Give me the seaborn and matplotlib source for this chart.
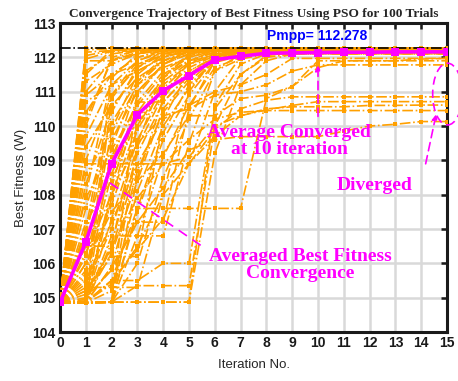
import numpy as np
import pandas as pd
import matplotlib
matplotlib.use("Agg")
import matplotlib.pyplot as plt
from matplotlib.patches import Ellipse
import seaborn as sns

# ---------------- data ----------------
iterations = list(range(16))

average_fitness = [104.86, 106.62, 108.90, 110.33, 111.03, 111.47, 111.93, 112.03,
                   112.12, 112.13, 112.14, 112.15, 112.15, 112.16, 112.16, 112.16]

pmpp_value = 112.278

trial_fitness = [
    [104.85, 112.27, 112.27, 112.27, 112.27, 112.27, 112.27, 112.27, 112.27, 112.27, 112.27, 112.27, 112.27, 112.27, 112.27, 112.27],
    [104.85, 112.05, 112.20, 112.26, 112.27, 112.27, 112.27, 112.27, 112.27, 112.27, 112.27, 112.27, 112.27, 112.27, 112.27, 112.27],
    [104.85, 111.60, 112.10, 112.20, 112.25, 112.27, 112.27, 112.27, 112.27, 112.27, 112.27, 112.27, 112.27, 112.27, 112.27, 112.27],
    [104.85, 111.00, 111.90, 112.15, 112.22, 112.26, 112.27, 112.27, 112.27, 112.27, 112.27, 112.27, 112.27, 112.27, 112.27, 112.27],
    [104.85, 110.40, 111.50, 112.00, 112.20, 112.25, 112.27, 112.27, 112.27, 112.27, 112.27, 112.27, 112.27, 112.27, 112.27, 112.27],
    [104.85, 109.70, 111.20, 111.90, 112.15, 112.22, 112.26, 112.27, 112.27, 112.27, 112.27, 112.27, 112.27, 112.27, 112.27, 112.27],
    [104.85, 109.00, 110.90, 111.70, 112.10, 112.20, 112.25, 112.27, 112.27, 112.27, 112.27, 112.27, 112.27, 112.27, 112.27, 112.27],
    [104.85, 108.30, 110.50, 111.60, 112.00, 112.20, 112.24, 112.27, 112.27, 112.27, 112.27, 112.27, 112.27, 112.27, 112.27, 112.27],
    [104.85, 107.60, 110.10, 111.30, 111.90, 112.15, 112.22, 112.25, 112.27, 112.27, 112.27, 112.27, 112.27, 112.27, 112.27, 112.27],
    [104.85, 106.90, 109.60, 111.00, 111.80, 112.10, 112.20, 112.24, 112.26, 112.26, 112.26, 112.26, 112.26, 112.26, 112.26, 112.26],
    [104.85, 106.20, 109.10, 110.70, 111.60, 112.05, 112.20, 112.23, 112.25, 112.25, 112.25, 112.25, 112.25, 112.25, 112.25, 112.25],
    [104.85, 105.60, 108.60, 110.40, 111.40, 111.90, 112.15, 112.20, 112.24, 112.24, 112.24, 112.24, 112.24, 112.24, 112.24, 112.24],
    [104.85, 105.10, 108.00, 110.00, 111.20, 111.80, 112.10, 112.20, 112.22, 112.22, 112.22, 112.22, 112.22, 112.22, 112.22, 112.22],
    [104.85, 104.90, 107.30, 109.60, 111.00, 111.70, 112.05, 112.18, 112.20, 112.20, 112.20, 112.20, 112.20, 112.20, 112.20, 112.20],
    [104.85, 104.85, 106.60, 109.20, 110.70, 111.50, 112.00, 112.15, 112.20, 112.20, 112.20, 112.20, 112.20, 112.20, 112.20, 112.20],
    [104.85, 104.85, 105.90, 108.70, 110.40, 111.30, 111.95, 112.10, 112.20, 112.20, 112.20, 112.20, 112.20, 112.20, 112.20, 112.20],
    [104.85, 104.85, 105.20, 108.10, 110.00, 111.10, 111.90, 112.10, 112.17, 112.17, 112.17, 112.17, 112.17, 112.17, 112.17, 112.17],
    [104.85, 104.85, 104.87, 107.50, 109.60, 110.90, 111.85, 112.05, 112.15, 112.15, 112.15, 112.15, 112.15, 112.15, 112.15, 112.15],
    [104.85, 104.85, 104.87, 106.80, 109.10, 110.60, 111.70, 112.00, 112.12, 112.12, 112.12, 112.12, 112.12, 112.12, 112.12, 112.12],
    [104.85, 104.85, 104.87, 106.00, 108.50, 110.20, 111.60, 111.95, 112.10, 112.10, 112.10, 112.10, 112.10, 112.10, 112.10, 112.10],
    [104.85, 104.85, 104.87, 105.35, 105.35, 105.35, 110.00, 111.50, 112.05, 112.15, 112.15, 112.15, 112.15, 112.15, 112.15, 112.15],
    [104.85, 104.85, 104.87, 104.87, 104.87, 104.87, 110.60, 111.80, 112.10, 112.20, 112.20, 112.20, 112.20, 112.20, 112.20, 112.20],
    [104.85, 104.85, 104.87, 104.87, 104.87, 104.87, 109.20, 111.20, 111.90, 112.10, 112.15, 112.15, 112.15, 112.15, 112.15, 112.15],
    [104.85, 104.85, 104.87, 107.60, 107.60, 107.60, 107.60, 107.60, 110.80, 111.15, 111.90, 111.90, 111.90, 111.90, 111.95, 111.97],
    [104.85, 105.80, 108.90, 108.90, 108.90, 108.90, 109.90, 110.50, 110.75, 110.85, 110.85, 110.85, 110.85, 110.85, 110.85, 110.85],
    [104.85, 105.50, 107.20, 108.90, 108.90, 109.10, 110.00, 110.30, 110.47, 110.60, 110.71, 110.71, 110.71, 110.71, 110.71, 110.71],
    [104.85, 104.87, 106.50, 107.90, 108.90, 109.60, 110.20, 110.40, 110.45, 110.45, 110.45, 110.45, 110.45, 110.45, 110.45, 110.45],
    [104.85, 104.87, 105.90, 107.20, 108.20, 109.30, 109.60, 109.69, 109.69, 109.69, 109.69, 109.85, 110.00, 110.05, 110.13, 110.13],
    [104.85, 106.30, 108.00, 109.50, 110.30, 110.50, 110.90, 111.00, 111.20, 111.60, 111.78, 111.78, 111.78, 111.78, 111.78, 111.78],
    [104.85, 106.00, 107.50, 108.40, 109.20, 110.30, 110.30, 110.80, 110.90, 111.15, 111.70, 111.90, 111.90, 111.90, 111.90, 111.90],
    [104.85, 105.20, 106.40, 108.90, 110.20, 110.60, 111.00, 111.20, 111.50, 111.97, 111.97, 111.97, 111.97, 111.97, 111.97, 111.97],
    [104.85, 104.87, 105.50, 106.40, 107.30, 108.90, 109.70, 110.30, 110.50, 110.56, 110.56, 110.56, 110.60, 110.60, 110.61, 110.61],
    [104.85, 104.87, 105.50, 105.50, 106.00, 106.00, 110.50, 111.50, 112.00, 112.10, 112.15, 112.15, 112.15, 112.15, 112.15, 112.15],
    [104.85, 108.90, 108.90, 111.20, 111.90, 112.20, 112.20, 112.20, 112.20, 112.20, 112.20, 112.20, 112.20, 112.20, 112.20, 112.20],
    [104.85, 111.90, 111.90, 112.10, 112.20, 112.20, 112.20, 112.20, 112.20, 112.20, 112.20, 112.20, 112.20, 112.20, 112.20, 112.20],
    [104.85, 110.90, 111.50, 111.80, 112.05, 112.15, 112.20, 112.20, 112.20, 112.20, 112.20, 112.20, 112.20, 112.20, 112.20, 112.20],
    [104.85, 112.15, 112.20, 112.20, 112.20, 112.20, 112.20, 112.20, 112.20, 112.20, 112.20, 112.20, 112.20, 112.20, 112.20, 112.20],
    [104.85, 104.85, 110.80, 111.80, 112.10, 112.20, 112.20, 112.20, 112.20, 112.20, 112.20, 112.20, 112.20, 112.20, 112.20, 112.20],
    [104.85, 104.85, 111.50, 112.00, 112.20, 112.20, 112.20, 112.20, 112.20, 112.20, 112.20, 112.20, 112.20, 112.20, 112.20, 112.20],
    [104.85, 104.85, 104.87, 111.00, 111.80, 112.10, 112.20, 112.20, 112.20, 112.20, 112.20, 112.20, 112.20, 112.20, 112.20, 112.20],
    [104.85, 106.50, 106.50, 110.00, 111.50, 112.00, 112.20, 112.20, 112.20, 112.20, 112.20, 112.20, 112.20, 112.20, 112.20, 112.20],
    [104.85, 107.00, 110.90, 111.90, 112.20, 112.20, 112.20, 112.20, 112.20, 112.20, 112.20, 112.20, 112.20, 112.20, 112.20, 112.20],
    [104.85, 110.00, 112.00, 112.20, 112.20, 112.20, 112.20, 112.20, 112.20, 112.20, 112.20, 112.20, 112.20, 112.20, 112.20, 112.20],
    [104.85, 105.20, 106.20, 106.20, 110.20, 111.60, 112.00, 112.20, 112.20, 112.20, 112.20, 112.20, 112.20, 112.20, 112.20, 112.20],
    [104.85, 104.85, 107.90, 110.70, 110.70, 111.50, 112.00, 112.20, 112.20, 112.20, 112.20, 112.20, 112.20, 112.20, 112.20, 112.20],
    [104.85, 111.30, 111.80, 112.10, 112.25, 112.27, 112.27, 112.27, 112.27, 112.27, 112.27, 112.27, 112.27, 112.27, 112.27, 112.27],
    [104.85, 110.70, 111.20, 111.60, 112.00, 112.20, 112.27, 112.27, 112.27, 112.27, 112.27, 112.27, 112.27, 112.27, 112.27, 112.27],
    [104.85, 109.40, 110.60, 111.40, 111.90, 112.10, 112.25, 112.25, 112.25, 112.25, 112.25, 112.25, 112.25, 112.25, 112.25, 112.25],
    [104.85, 108.60, 109.80, 111.20, 111.70, 112.00, 112.20, 112.20, 112.20, 112.20, 112.20, 112.20, 112.20, 112.20, 112.20, 112.20],
    [104.85, 107.90, 109.30, 110.60, 111.50, 111.90, 112.15, 112.15, 112.15, 112.15, 112.15, 112.15, 112.15, 112.15, 112.15, 112.15],
    [104.85, 107.20, 108.40, 110.20, 111.30, 111.85, 112.10, 112.20, 112.20, 112.20, 112.20, 112.20, 112.20, 112.20, 112.20, 112.20],
    [104.85, 106.00, 107.70, 109.90, 111.10, 111.80, 112.05, 112.20, 112.20, 112.20, 112.20, 112.20, 112.20, 112.20, 112.20, 112.20],
    [104.85, 105.40, 107.00, 109.40, 110.90, 111.60, 112.00, 112.18, 112.18, 112.18, 112.18, 112.18, 112.18, 112.18, 112.18, 112.18],
    [104.85, 104.95, 106.30, 108.40, 110.50, 111.40, 111.95, 112.15, 112.15, 112.15, 112.15, 112.15, 112.15, 112.15, 112.15, 112.15],
    [104.85, 104.85, 105.50, 107.60, 109.80, 111.20, 111.90, 112.10, 112.10, 112.10, 112.10, 112.10, 112.10, 112.10, 112.10, 112.10],
    [104.85, 112.22, 112.25, 112.25, 112.25, 112.25, 112.25, 112.25, 112.25, 112.25, 112.25, 112.25, 112.25, 112.25, 112.25, 112.25],
    [104.85, 111.95, 112.18, 112.18, 112.18, 112.18, 112.18, 112.18, 112.18, 112.18, 112.18, 112.18, 112.18, 112.18, 112.18, 112.18],
    [104.85, 111.50, 112.22, 112.22, 112.22, 112.22, 112.22, 112.22, 112.22, 112.22, 112.22, 112.22, 112.22, 112.22, 112.22, 112.22],
    [104.85, 110.20, 111.90, 112.25, 112.25, 112.25, 112.25, 112.25, 112.25, 112.25, 112.25, 112.25, 112.25, 112.25, 112.25, 112.25],
    [104.85, 108.00, 111.40, 112.10, 112.27, 112.27, 112.27, 112.27, 112.27, 112.27, 112.27, 112.27, 112.27, 112.27, 112.27, 112.27],
    [104.85, 106.80, 110.40, 111.70, 112.20, 112.20, 112.20, 112.20, 112.20, 112.20, 112.20, 112.20, 112.20, 112.20, 112.20, 112.20],
    [104.85, 105.70, 109.90, 111.50, 112.10, 112.27, 112.27, 112.27, 112.27, 112.27, 112.27, 112.27, 112.27, 112.27, 112.27, 112.27],
    [104.85, 104.90, 109.40, 111.30, 112.00, 112.25, 112.25, 112.25, 112.25, 112.25, 112.25, 112.25, 112.25, 112.25, 112.25, 112.25],
    [104.85, 104.87, 108.20, 110.90, 111.80, 112.20, 112.20, 112.20, 112.20, 112.20, 112.20, 112.20, 112.20, 112.20, 112.20, 112.20],
    [104.85, 104.87, 104.87, 109.50, 111.40, 112.10, 112.25, 112.25, 112.25, 112.25, 112.25, 112.25, 112.25, 112.25, 112.25, 112.25],
    [104.85, 104.87, 104.87, 108.50, 110.80, 111.90, 112.20, 112.20, 112.20, 112.20, 112.20, 112.20, 112.20, 112.20, 112.20, 112.20],
    [104.85, 105.30, 105.30, 105.30, 108.00, 111.00, 112.00, 112.20, 112.20, 112.20, 112.20, 112.20, 112.20, 112.20, 112.20, 112.20],
    [104.85, 104.87, 106.80, 106.80, 106.80, 109.50, 111.60, 112.10, 112.20, 112.20, 112.20, 112.20, 112.20, 112.20, 112.20, 112.20],
    [104.85, 105.00, 105.80, 107.20, 107.20, 110.50, 111.90, 112.20, 112.20, 112.20, 112.20, 112.20, 112.20, 112.20, 112.20, 112.20],
    [104.85, 104.87, 105.40, 106.50, 108.00, 108.90, 111.00, 112.00, 112.20, 112.20, 112.20, 112.20, 112.20, 112.20, 112.20, 112.20],
]

title_text = "Convergence Trajectory of Best Fitness Using PSO for 100 Trials"
x_label = "Iteration No."
y_label = "Best Fitness (W)"
x_ticks = list(range(0, 16))
y_ticks = list(range(104, 114))

# ---------------- figure ----------------
sns.set_theme(style="whitegrid")
plt.rcParams["font.family"] = ["Liberation Sans", "DejaVu Sans"]

fig = plt.figure(figsize=(4.58, 3.81), dpi=100)
ax = fig.add_axes([0.131, 0.1286, 0.845, 0.811])
ax.set_facecolor("white")

rows = []
for t, vals in enumerate(trial_fitness):
    for it, v in zip(iterations, vals):
        rows.append({"trial": t, "iteration": it, "fitness": v})
df = pd.DataFrame(rows)

sns.lineplot(data=df, x="iteration", y="fitness", units="trial", estimator=None,
             color="#FFA000", linestyle="-.", linewidth=1.2, marker="s",
             markersize=3.2, markeredgewidth=0, ax=ax, legend=False, zorder=3)

ax.plot([0, 15], [pmpp_value, pmpp_value], color="black", linestyle="-.",
        linewidth=1.2, zorder=4)

avg_df = pd.DataFrame({"iteration": iterations, "fitness": average_fitness})
sns.lineplot(data=avg_df, x="iteration", y="fitness", color="#FF00FF",
             linewidth=2.6, marker="s", markersize=6, markeredgewidth=0,
             ax=ax, zorder=5)

ax.set_xlim(0, 15)
ax.set_ylim(104, 113)
ax.set_xticks(x_ticks)
ax.set_yticks(y_ticks)
ax.set_xticklabels([str(v) for v in x_ticks], fontsize=10, fontweight="bold")
ax.set_yticklabels([str(v) for v in y_ticks], fontsize=10, fontweight="bold")
ax.set_xlabel(x_label, fontsize=9.5, labelpad=6)
ax.set_ylabel(y_label, fontsize=9.5, labelpad=4)
ax.set_title(title_text, fontsize=9.6, fontweight="bold",
             family=["Liberation Serif"], pad=4)

ax.grid(True, color="#d9d9d9", linewidth=1.8)
ax.set_axisbelow(True)
for s in ax.spines.values():
    s.set_color("#1a1a1a")
    s.set_linewidth(2.2)
ax.tick_params(direction="in", length=4, width=1.8, colors="#1a1a1a",
               top=True, right=True, labeltop=False, labelright=False, pad=3)
ax.tick_params(axis="both", labelcolor="#1a1a1a")

magenta = "#FF00FF"
serif = ["Liberation Serif"]

ax.text(9.96, 112.62, "Pmpp= 112.278", color="#0000FF", fontsize=10,
        fontweight="bold", ha="center", va="center", zorder=6)

ax.text(8.88, 109.56, "Average Converged\nat 10 iteration", color=magenta,
        fontsize=14, fontweight="bold", family=serif, ha="center", va="center",
        linespacing=1.0, zorder=6)
ax.annotate("", xy=(10, 111.85), xytext=(10, 110.2),
            arrowprops=dict(arrowstyle="-|>", color=magenta, lw=1.2,
                            linestyle=(0, (5, 3)), mutation_scale=8), zorder=6)

ax.text(9.3, 105.95, "Averaged Best Fitness\nConvergence", color=magenta,
        fontsize=14, fontweight="bold", family=serif, ha="center", va="center",
        linespacing=1.0, zorder=6)
ax.plot([1.94, 5.5], [108.34, 106.5], color=magenta, lw=1.2,
        linestyle=(0, (6, 4)), zorder=6)

ax.text(12.2, 108.28, "Diverged", color=magenta, fontsize=14,
        fontweight="bold", family=serif, ha="center", va="center", zorder=6)
ax.annotate("", xy=(14.6, 110.42), xytext=(14.15, 108.82),
            arrowprops=dict(arrowstyle="-|>", color=magenta, lw=1.2,
                            linestyle=(0, (5, 3)), mutation_scale=8), zorder=6)
ell = Ellipse((15.02, 110.93), width=1.15, height=1.8, fill=False,
              edgecolor=magenta, linestyle=(0, (5, 3)), linewidth=1.2,
              clip_on=False, zorder=6)
ax.add_patch(ell)

fig.savefig("out.png", dpi=100)
